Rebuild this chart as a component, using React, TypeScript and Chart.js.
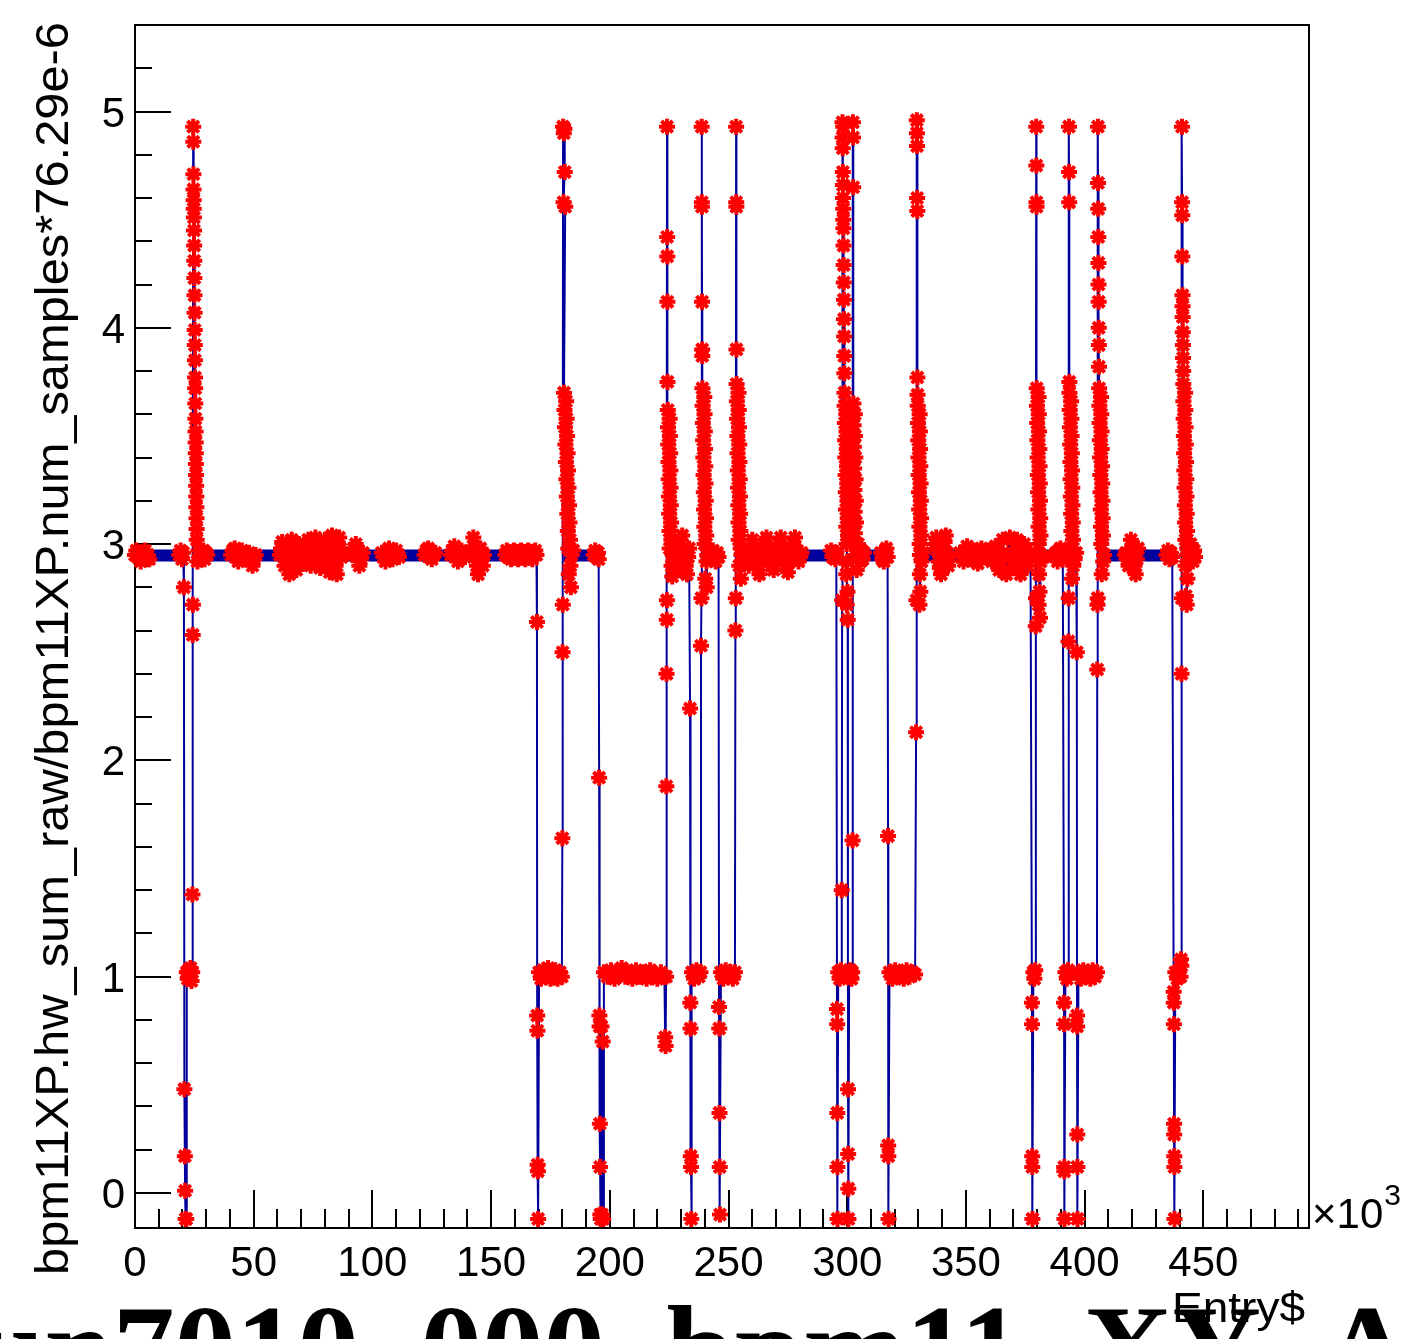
import { useEffect, useRef } from 'react';
import { Chart, registerables } from 'chart.js';

Chart.register(...registerables);

type Pt = [number, number];

// ---------------- axis definition (entries in units of 10^3) ----------------
const xAxisRange: Pt = [0, 494.5];
const yAxisRange: Pt = [-0.162, 5.4];
const xMajorTicks = [0, 50, 100, 150, 200, 250, 300, 350, 400, 450];
const yMajorTicks = [0, 1, 2, 3, 4, 5];
const xMinorStep = 10;
const yMinorStep = 0.2;

const yTitle = 'bpm11XP.hw_sum_raw/bpm11XP.num_samples*76.29e-6';
const xTitle = 'Entry$';
const xExponent = '3';
const pageTitle = 'run7010_000_bpm11_XY_A';

// ---------------- dense baseline band (noise envelope around ~2.95) ----------------
const bandHigh = 2.975;
const bandLow = 2.92;
const baselineRuns: Pt[] = [
  [0, 21.3], [24.6, 169.3], [180.5, 195.5], [224.5, 233.8], [239.5, 246],
  [254, 295.7], [302.6, 317.2], [330, 377.8], [380.2, 391.3], [393.8, 396.8],
  [406.2, 437.7], [441.5, 446.9],
];

// ---------------- individual entries (entry [10^3], value) ----------------
const openingRun: Pt[] = [
  [0, 2.95], [0.6, 2.97], [1.2, 2.94], [1.8, 2.96], [2.4, 2.92], [3, 2.96], [3.6, 2.94], [4.2, 2.97],
  [4.8, 2.93], [5.4, 2.95], [6, 2.93],
  [18.6, 2.95], [19.2, 2.97], [19.8, 2.93], [20.3, 2.96],
  [20.6, 2.8], [20.8, 0.48], [21.0, 0.17], [21.1, 0.01], [21.3, -0.12], [21.6, -0.12],
  [21.8, 1.02], [22.2, 0.99], [22.6, 1.03], [23.0, 1.0], [23.4, 1.04], [23.8, 0.98], [24.1, 1.02],
  [24.2, 1.38], [24.3, 2.58], [24.4, 2.72],
  [24.5, 4.93], [24.55, 4.86], [24.6, 4.71], [24.65, 4.64], [24.7, 4.59], [24.75, 4.55], [24.8, 4.51], [24.85, 4.45],
  [24.9, 4.38], [24.95, 4.31], [25.0, 4.23], [25.05, 4.15], [25.1, 4.07], [25.15, 3.99], [25.2, 3.92], [25.25, 3.85],
  [25.3, 3.77], [25.35, 3.72], [25.4, 3.65], [25.45, 3.58], [25.5, 3.52], [25.55, 3.47], [25.6, 3.42], [25.65, 3.37],
  [25.7, 3.32], [25.75, 3.27], [25.8, 3.22], [25.85, 3.17], [25.9, 3.12], [25.95, 3.07], [26.0, 3.02],
  [26.3, 2.92], [26.8, 2.97], [27.3, 2.93], [27.8, 2.96], [28.3, 2.94], [28.8, 2.97], [29.3, 2.93],
  [29.8, 2.96], [30.4, 2.95],
];

const stableRun: Pt[] = [
  [40.5, 2.95], [41.2, 2.97], [42, 2.98], [42.7, 2.94], [43.5, 2.92], [44.2, 2.95], [45, 2.97], [45.7, 2.95],
  [46.5, 2.93], [47.2, 2.95], [48, 2.96], [48.7, 2.93], [49.5, 2.9], [50.2, 2.93], [50.8, 2.95],
  [61, 2.95], [61.5, 2.98], [62, 3.01], [62.5, 2.95], [63, 2.9], [63.5, 2.94], [64, 2.98], [64.5, 2.92],
  [65, 2.86], [65.5, 2.96], [66, 3.02], [66.5, 2.97], [67, 2.93], [67.5, 2.9], [68, 2.88], [68.5, 2.95],
  [69, 3.0], [69.5, 2.98], [70, 2.95], [70.5, 2.93], [71, 2.91], [71.5, 2.94], [72, 2.97], [72.5, 3.0],
  [73, 3.02], [73.5, 2.96], [74, 2.9], [74.5, 2.93], [75, 2.96], [75.5, 3.0], [76, 3.03], [76.5, 2.98],
  [77, 2.93], [77.5, 2.91], [78, 2.89], [78.5, 2.94], [79, 2.98], [79.5, 3.0], [80, 3.02], [80.5, 2.97],
  [81, 2.92], [81.5, 2.9], [82, 2.87], [82.5, 2.96], [83, 3.04], [83.5, 2.99], [84, 2.95], [84.5, 2.9],
  [85, 2.86], [85.5, 2.95], [86, 3.03], [86.5, 2.98], [87, 2.94], [87.6, 2.96],
  [91.5, 2.95], [92.2, 2.98], [93, 3.0], [93.7, 2.95], [94.5, 2.9], [95.2, 2.93], [96, 2.96],
  [104, 2.96], [104.7, 2.94], [105.5, 2.92], [106.2, 2.95], [107, 2.98], [107.7, 2.96], [108.5, 2.93],
  [109.2, 2.95], [110, 2.97], [110.7, 2.95], [111.2, 2.94],
  [122, 2.95], [122.7, 2.97], [123.5, 2.98], [124.2, 2.95], [125, 2.93], [125.7, 2.95], [126.5, 2.96],
  [133, 2.95], [133.7, 2.97], [134.5, 2.99], [135.2, 2.95], [136, 2.92], [136.7, 2.94], [137.5, 2.97],
  [138.2, 2.96], [139, 2.94],
  [142.5, 3.03], [143, 2.99], [143.5, 2.95], [144, 2.9], [144.5, 2.86], [145, 2.92], [145.5, 2.98],
  [146, 2.94], [146.5, 2.9], [147, 2.95],
  [156, 2.95], [156.6, 2.97], [157.2, 2.94], [157.8, 2.96], [158.4, 2.93], [159, 2.95], [159.6, 2.97],
  [160.2, 2.94], [160.8, 2.96], [161.4, 2.93], [162, 2.95], [162.6, 2.97], [163.2, 2.94], [163.8, 2.96],
  [164.4, 2.93], [165, 2.95], [165.6, 2.97], [166.2, 2.94], [166.8, 2.96], [167.4, 2.93], [168, 2.95],
  [168.6, 2.97], [169.1, 2.95],
];

const dipAt170: Pt[] = [
  [169.3, 2.64], [169.4, 0.82], [169.5, 0.75], [169.6, 0.13], [169.7, 0.1], [169.8, -0.12],
  [170.2, 1.02], [171, 0.99], [172, 1.03], [173, 1.0], [174, 1.04], [175, 0.99], [176, 1.02], [177, 1.03],
  [178, 0.99], [179, 1.02], [179.8, 1.0], [180.0, 1.64], [180.1, 2.5], [180.2, 2.72],
  [180.3, 4.93], [180.6, 4.9], [180.9, 4.92], [181.0, 4.72], [180.5, 4.58], [181.2, 4.56],
  [180.7, 3.7], [181.6, 3.66], [180.9, 3.62], [181.8, 3.58], [181.1, 3.54], [182.0, 3.5], [181.3, 3.46],
  [182.2, 3.42], [181.5, 3.38], [182.4, 3.34], [181.7, 3.3], [182.6, 3.26], [181.9, 3.22], [182.8, 3.18],
  [182.1, 3.14], [183.0, 3.1], [182.3, 3.06], [183.2, 3.02], [182.5, 2.98], [183.4, 2.9], [182.7, 2.86],
  [183.6, 2.8], [183.9, 2.95], [184.6, 2.97],
];

const dipAt196: Pt[] = [
  [193.2, 2.95], [193.8, 2.97], [194.4, 2.94], [195.0, 2.96], [195.3, 2.93],
  [195.5, 1.92], [195.6, 0.82], [195.7, 0.77], [195.8, 0.32], [195.9, 0.12], [196.0, -0.1], [196.2, -0.12],
  [196.5, 0.77], [196.7, -0.1], [197.0, 0.7], [197.2, -0.12],
  [197.5, 1.02], [199, 1.0], [200.5, 1.03], [202, 0.99], [203.5, 1.02], [205, 1.04], [206.5, 1.0], [208, 1.02],
  [209.5, 0.99], [211, 1.03], [212.5, 1.0], [214, 1.02], [215.5, 0.99], [217, 1.03], [218.5, 1.01], [220, 0.99],
  [221.5, 1.02], [223, 1.0], [223.3, 0.72], [223.5, 0.68], [223.7, 1.0],
  [223.8, 1.88], [223.9, 2.4], [224.0, 2.65], [224.05, 2.74],
  [224.1, 4.93], [224.15, 4.42], [224.2, 4.33], [224.25, 4.12], [224.3, 3.75],
  [224.4, 3.62], [225.2, 3.58], [224.5, 3.54], [225.3, 3.5], [224.6, 3.46], [225.4, 3.42], [224.7, 3.38],
  [225.5, 3.34], [224.8, 3.3], [225.6, 3.26], [224.9, 3.22], [225.7, 3.18], [225.0, 3.14], [225.8, 3.1],
  [225.1, 3.06], [225.9, 3.02], [225.2, 2.98], [226.0, 2.9], [226.3, 2.85], [226.5, 2.95],
  [227, 2.93], [227.7, 2.97], [228.5, 3.0], [229, 2.95], [229.5, 2.88], [230, 2.94], [230.5, 3.04],
  [231, 2.98], [231.5, 2.92], [232, 2.9], [232.5, 2.86], [233, 2.94], [233.4, 2.98],
];

const dipAt234: Pt[] = [
  [233.8, 2.24], [233.9, 0.88], [234.0, 0.76], [234.1, 0.17], [234.2, 0.12], [234.3, -0.12],
  [234.6, 1.02], [235.5, 0.99], [236.5, 1.03], [237.5, 1.0], [238.2, 1.02], [238.4, 2.53], [238.6, 2.75],
  [238.7, 4.93], [238.75, 4.58], [238.8, 4.56], [238.85, 4.12], [238.9, 3.9], [238.95, 3.87],
  [239.0, 3.72], [239.8, 3.68], [239.1, 3.64], [239.9, 3.6], [239.2, 3.56], [240.0, 3.52], [239.3, 3.48],
  [240.1, 3.44], [239.4, 3.4], [240.2, 3.36], [239.5, 3.32], [240.3, 3.28], [239.6, 3.24], [240.4, 3.2],
  [239.7, 3.16], [240.5, 3.12], [239.8, 3.08], [240.6, 3.04], [239.9, 3.0], [240.7, 2.92], [240.2, 2.84],
  [240.8, 2.8], [241.0, 2.95],
  [241.6, 2.94], [242.2, 2.96], [242.8, 2.93], [243.4, 2.97], [244, 2.95], [244.6, 2.92], [245.2, 2.96],
  [245.8, 2.94],
];

const dipAt246: Pt[] = [
  [246.0, 0.86], [246.1, 0.76], [246.2, 0.37], [246.3, 0.12], [246.4, -0.1],
  [246.8, 1.02], [247.8, 0.99], [248.8, 1.03], [249.8, 1.0], [250.8, 1.02], [251.8, 0.99], [252.7, 1.02],
  [252.9, 2.6], [253.05, 2.75],
  [253.2, 4.93], [253.25, 4.58], [253.3, 4.56], [253.35, 3.9], [253.4, 3.74], [254.2, 3.7], [253.5, 3.66],
  [254.3, 3.62], [253.6, 3.58], [254.4, 3.54], [253.7, 3.5], [254.5, 3.46], [253.8, 3.42], [254.6, 3.38],
  [253.9, 3.34], [254.7, 3.3], [254.0, 3.26], [254.8, 3.22], [254.1, 3.18], [254.9, 3.14], [254.2, 3.1],
  [255.0, 3.06], [254.3, 3.02], [255.1, 2.98], [254.5, 2.9], [255.2, 2.84], [255.4, 2.95],
  [256.2, 2.95], [257, 2.97], [257.7, 2.94], [258.5, 2.9], [259.2, 2.96], [260, 3.02], [260.7, 2.98],
  [261.5, 2.93], [262.2, 2.9], [263, 2.86], [263.7, 2.93], [264.5, 2.98], [265.2, 3.0], [266, 3.03],
  [266.7, 2.97], [267.5, 2.92], [268.2, 2.9], [269, 2.88], [269.7, 2.93], [270.5, 2.97], [271.2, 3.0],
  [272, 3.03], [272.7, 2.98], [273.5, 2.93], [274.2, 2.9], [275, 2.87], [275.7, 2.92], [276.5, 2.96],
  [277.2, 3.0], [278, 3.03], [278.7, 2.97], [279.5, 2.92], [280.2, 2.94], [280.8, 2.96],
];

const dipsAt296to303: Pt[] = [
  [293.2, 2.97], [293.8, 2.94], [294.4, 2.96], [295.0, 2.93], [295.4, 2.96],
  [295.7, 0.85], [295.75, 0.78], [295.8, 0.37], [295.85, 0.12], [295.9, -0.12],
  [296.2, 1.02], [296.8, 0.99], [297.4, 1.03], [297.7, 1.4], [297.85, 2.74],
  [298.0, 4.95], [298.3, 4.93], [298.05, 4.88], [298.1, 4.83], [298.15, 4.72], [298.2, 4.66], [298.25, 4.6],
  [298.3, 4.55], [298.35, 4.5], [298.4, 4.46], [298.45, 4.38], [298.5, 4.29], [298.55, 4.21], [298.6, 4.13],
  [298.65, 4.04], [298.7, 3.96], [298.75, 3.87], [298.8, 3.79], [298.85, 3.7], [298.9, 3.64], [299.6, 3.6],
  [299.0, 3.56], [299.7, 3.52], [299.1, 3.48], [299.8, 3.44], [299.2, 3.4], [299.9, 3.36], [299.3, 3.32],
  [300.0, 3.28], [299.4, 3.24], [300.1, 3.2], [299.5, 3.16], [300.2, 3.12], [299.6, 3.08], [300.3, 3.04],
  [299.7, 3.0], [300.0, 2.92], [299.6, 2.86], [300.1, 2.78], [299.8, 2.72], [300.2, 2.65],
  [300.3, 1.02], [300.35, 0.48], [300.4, 0.18], [300.45, 0.02], [300.5, -0.12],
  [300.8, 1.0], [301.3, 1.03], [301.8, 0.99], [302.1, 1.02], [302.25, 1.63],
  [302.4, 4.95], [302.45, 4.88], [302.5, 4.65], [302.6, 3.65], [303.2, 3.6], [302.7, 3.55], [303.3, 3.5],
  [302.8, 3.45], [303.4, 3.4], [302.9, 3.35], [303.5, 3.3], [303.0, 3.25], [303.6, 3.2], [303.1, 3.15],
  [303.7, 3.1], [303.2, 3.05], [303.8, 3.0], [303.4, 2.95], [304.0, 2.88],
  [304.5, 3.0], [305, 2.94], [305.5, 2.92], [306, 2.97], [306.5, 2.93], [307, 2.96],
];

const dipAt317: Pt[] = [
  [314.2, 2.96], [314.8, 2.93], [315.4, 2.92], [316, 2.96], [316.5, 2.98], [317.0, 2.94],
  [317.2, 1.65], [317.25, 0.22], [317.3, 0.17], [317.4, -0.12],
  [317.8, 1.02], [319, 0.99], [320.2, 1.03], [321.4, 1.0], [322.6, 1.02], [323.8, 0.99], [325, 1.03],
  [326.2, 1.0], [327.4, 1.02], [328.6, 1.01], [329.0, 2.13], [329.15, 2.74],
  [329.3, 4.96], [329.35, 4.9], [329.4, 4.84], [329.45, 4.6], [329.5, 4.54], [329.55, 3.77], [329.6, 3.69],
  [329.7, 3.64], [330.5, 3.6], [329.8, 3.56], [330.6, 3.52], [329.9, 3.48], [330.7, 3.44], [330.0, 3.4],
  [330.8, 3.36], [330.1, 3.32], [330.9, 3.28], [330.2, 3.24], [331.0, 3.2], [330.3, 3.16], [331.1, 3.12],
  [330.4, 3.08], [331.2, 3.04], [330.5, 3.0], [331.3, 2.92], [330.6, 2.86], [330.8, 2.78], [330.4, 2.72],
  [330.6, 2.95], [332.0, 2.96],
  [337, 3.0], [337.5, 3.03], [338, 2.97], [338.5, 2.92], [339, 2.89], [339.5, 2.86], [340, 2.93],
  [340.5, 2.98], [341, 3.01], [341.5, 3.04], [342, 2.96], [342.5, 2.9], [343, 2.94],
  [347.5, 2.96], [348.2, 2.94], [349, 2.92], [349.7, 2.96], [350.5, 2.99], [351.2, 2.96], [352, 2.93],
  [352.7, 2.95], [353.5, 2.97], [354.2, 2.94], [355, 2.91], [355.7, 2.95], [356.5, 2.98], [357.2, 2.96],
  [358, 2.94], [358.7, 2.96], [359.5, 2.97], [360.2, 2.94], [361, 2.92], [361.7, 2.96], [362.5, 2.99],
  [363.2, 2.93], [364, 2.88], [364.7, 2.95], [365.5, 3.02], [366.2, 2.94], [367, 2.86], [367.7, 2.95],
  [368.5, 3.03], [369.2, 2.96], [370, 2.9], [370.7, 2.96], [371.5, 3.02], [372.2, 2.94], [373, 2.86],
  [373.7, 2.93], [374.5, 3.0], [375.2, 2.95], [376, 2.9], [376.6, 2.94], [377.2, 2.96],
];

const dipsAt378to397: Pt[] = [
  [377.8, 0.88], [377.85, 0.78], [377.9, 0.17], [377.95, 0.12], [378.0, -0.12],
  [378.4, 1.02], [378.8, 0.99], [379.2, 1.03], [379.4, 2.62], [379.5, 2.75],
  [379.6, 4.93], [379.65, 4.75], [379.7, 4.58], [379.75, 4.56], [379.8, 3.72], [380.6, 3.68], [379.9, 3.64],
  [380.7, 3.6], [380.0, 3.56], [380.8, 3.52], [380.1, 3.48], [380.9, 3.44], [380.2, 3.4], [381.0, 3.36],
  [380.3, 3.32], [381.1, 3.28], [380.4, 3.24], [381.2, 3.2], [380.5, 3.16], [381.3, 3.12], [380.6, 3.08],
  [381.4, 3.04], [380.7, 3.0], [381.5, 2.92], [380.8, 2.86], [381.0, 2.78], [380.6, 2.72], [381.2, 2.66],
  [381.4, 2.95], [382.5, 2.94],
  [387.5, 2.95], [388, 2.96], [388.6, 2.92], [389.2, 2.97], [389.8, 2.98], [390.3, 2.94], [390.8, 2.93],
  [391.3, 0.88], [391.35, 0.78], [391.4, 0.12], [391.45, 0.1], [391.5, -0.12],
  [391.9, 1.02], [392.5, 0.99], [393.0, 1.03], [393.2, 2.55], [393.3, 2.75],
  [393.4, 4.93], [393.45, 4.72], [393.5, 4.58], [393.55, 3.75], [393.6, 3.7], [394.3, 3.66], [393.7, 3.62],
  [394.4, 3.58], [393.8, 3.54], [394.5, 3.5], [393.9, 3.46], [394.6, 3.42], [394.0, 3.38], [394.7, 3.34],
  [394.1, 3.3], [394.8, 3.26], [394.2, 3.22], [394.9, 3.18], [394.3, 3.14], [395.0, 3.1], [394.4, 3.06],
  [395.1, 3.02], [394.5, 2.98], [395.2, 2.9], [394.7, 2.84], [394.9, 2.95], [395.8, 2.93], [396.4, 2.96],
  [396.7, 2.5],
  [396.8, 0.82], [396.85, 0.77], [396.9, 0.27], [396.95, 0.12], [397.0, -0.12],
  [397.4, 1.02], [398.4, 0.99], [399.4, 1.03], [400.4, 1.0], [401.4, 1.02], [402.4, 0.99], [403.4, 1.03],
  [404.4, 1.0], [405.2, 1.02], [405.3, 2.42], [405.4, 2.72], [405.5, 2.75],
  [405.6, 4.93], [405.65, 4.67], [405.7, 4.55], [405.75, 4.42], [405.8, 4.3], [405.85, 4.2], [405.9, 4.12],
  [405.95, 4.0], [406.0, 3.92], [406.05, 3.82], [406.1, 3.72], [406.9, 3.68], [406.2, 3.64], [407.0, 3.6],
  [406.3, 3.56], [407.1, 3.52], [406.4, 3.48], [407.2, 3.44], [406.5, 3.4], [407.3, 3.36], [406.6, 3.32],
  [407.4, 3.28], [406.7, 3.24], [407.5, 3.2], [406.8, 3.16], [407.6, 3.12], [406.9, 3.08], [407.7, 3.04],
  [407.0, 3.0], [407.8, 2.92], [407.2, 2.86], [408.2, 2.95],
];

const dipAt438: Pt[] = [
  [417, 2.95], [417.5, 2.96], [418, 2.93], [418.5, 2.9], [419, 2.96], [419.5, 3.02], [420, 2.98],
  [420.5, 2.93], [421, 2.9], [421.5, 2.86], [422, 2.93], [422.5, 2.98],
  [434.5, 2.95], [435.1, 2.97], [435.7, 2.93], [436.3, 2.96], [436.9, 2.94],
  [437.5, 0.93], [437.55, 0.88], [437.6, 0.78], [437.65, 0.32], [437.7, 0.27], [437.75, 0.17],
  [437.8, 0.12], [437.85, -0.12],
  [438.2, 1.02], [439, 0.99], [439.8, 1.03], [440.4, 1.0], [440.6, 1.08], [440.7, 1.05], [440.8, 2.4],
  [440.9, 2.75],
  [441.0, 4.93], [441.05, 4.58], [441.1, 4.52], [441.15, 4.33], [441.2, 4.15], [441.25, 4.1], [441.3, 4.05],
  [441.35, 3.98], [441.4, 3.92], [441.45, 3.86], [441.5, 3.8], [441.55, 3.74], [442.3, 3.7], [441.6, 3.66],
  [442.4, 3.62], [441.7, 3.58], [442.5, 3.54], [441.8, 3.5], [442.6, 3.46], [441.9, 3.42], [442.7, 3.38],
  [442.0, 3.34], [442.8, 3.3], [442.1, 3.26], [442.9, 3.22], [442.2, 3.18], [443.0, 3.14], [442.3, 3.1],
  [443.1, 3.06], [442.4, 3.02], [443.2, 2.98], [442.5, 2.9], [443.3, 2.84], [442.6, 2.76], [443.0, 2.72],
  [443.2, 2.95], [443.6, 2.95], [444.1, 2.98], [444.6, 3.0], [445.1, 2.94], [445.6, 2.92], [446.1, 2.97],
  [446.5, 2.94],
];

const BLUE = '#00009c';
const RED = '#ff0000';
const LABEL_FONT = '"Liberation Sans", Arial, Helvetica, sans-serif';

const rootAxesPlugin = {
  id: 'rootAxes',
  beforeDatasetsDraw(chart: any) {
    const { ctx, chartArea: a, scales } = chart;
    const xs = scales.x;
    const ys = scales.y;
    ctx.save();
    ctx.strokeStyle = '#000';
    ctx.lineWidth = 2;
    ctx.strokeRect(a.left, a.top, a.right - a.left, a.bottom - a.top);
    ctx.beginPath();
    for (let k = 0; k * xMinorStep <= xAxisRange[1]; k++) {
      const v = k * xMinorStep;
      const px = Math.round(xs.getPixelForValue(v));
      const major = xMajorTicks.includes(v);
      ctx.moveTo(px, a.bottom);
      ctx.lineTo(px, a.bottom - (major ? 38 : 19));
    }
    for (let k = -5; k < 40; k++) {
      const v = Math.round(k * yMinorStep * 10) / 10;
      if (v < yAxisRange[0] || v >= yAxisRange[1] - 1e-6) continue;
      const py = Math.round(ys.getPixelForValue(v));
      const major = yMajorTicks.includes(v);
      ctx.moveTo(a.left, py);
      ctx.lineTo(a.left + (major ? 36 : 17), py);
    }
    ctx.stroke();
    ctx.restore();
  },
  afterDraw(chart: any) {
    const { ctx, chartArea: a, scales } = chart;
    const xs = scales.x;
    const ys = scales.y;
    ctx.save();
    ctx.fillStyle = '#000';

    // tick labels
    ctx.font = `42px ${LABEL_FONT}`;
    ctx.textBaseline = 'alphabetic';
    ctx.textAlign = 'center';
    xMajorTicks.forEach((v) => {
      ctx.fillText(String(v), xs.getPixelForValue(v), a.bottom + 48);
    });
    ctx.textAlign = 'right';
    yMajorTicks.forEach((v) => {
      ctx.fillText(String(v), a.left - 10, ys.getPixelForValue(v) + 15);
    });

    // x10^3
    ctx.textAlign = 'left';
    ctx.font = `42px ${LABEL_FONT}`;
    ctx.fillText('\u00d710', a.right + 3, a.bottom);
    const w10 = ctx.measureText('\u00d710').width;
    ctx.font = `30px ${LABEL_FONT}`;
    ctx.fillText(xExponent, a.right + 3 + w10 + 1, a.bottom - 23);

    // bottom big title (clipped by canvas edge)
    ctx.font = 'bold 123px "Liberation Serif", "Times New Roman", serif';
    ctx.textAlign = 'left';
    const lead = ctx.measureText('run').width;
    ctx.fillText(pageTitle, 113 - lead, 1390);

    // x axis title
    ctx.font = `42px ${LABEL_FONT}`;
    ctx.textAlign = 'right';
    const wx = ctx.measureText(xTitle).width;
    ctx.save();
    ctx.translate(a.right - 4, 1322);
    ctx.scale(133 / wx, 1);
    ctx.fillText(xTitle, 0, 0);
    ctx.restore();

    // y axis title
    ctx.font = `46px ${LABEL_FONT}`;
    const wy = ctx.measureText(yTitle).width;
    ctx.save();
    ctx.translate(68, 22);
    ctx.rotate(-Math.PI / 2);
    ctx.scale(1253 / wy, 1);
    ctx.textAlign = 'right';
    ctx.fillText(yTitle, 0, 0);
    ctx.restore();

    ctx.restore();
  },
};

export default function App() {
  const canvasRef = useRef<HTMLCanvasElement | null>(null);

  useEffect(() => {
    const canvas = canvasRef.current;
    if (!canvas) return;

    const tracePoints = [
      ...openingRun, ...stableRun, ...dipAt170, ...dipAt196, ...dipAt234, ...dipAt246,
      ...dipsAt296to303, ...dipAt317, ...dipsAt378to397, ...dipAt438,
    ].map(([x, y]) => ({ x, y }));

    const bandMid = (bandHigh + bandLow) / 2;
    const bandPoints: { x: number; y: number | null }[] = [];
    baselineRuns.forEach(([s, e]) => {
      bandPoints.push({ x: s, y: bandMid }, { x: e, y: bandMid }, { x: e, y: null });
    });

    const chart = new Chart(canvas, {
      type: 'scatter',
      data: {
        datasets: [
          {
            label: 'entries',
            data: tracePoints,
            showLine: true,
            borderColor: BLUE,
            borderWidth: 2,
            pointStyle: 'star',
            pointRadius: 8,
            pointHoverRadius: 8,
            pointBorderColor: RED,
            pointBackgroundColor: RED,
            pointBorderWidth: 4,
            order: 0,
            clip: false as any,
          } as any,
          {
            label: 'baseline band',
            data: bandPoints,
            showLine: true,
            spanGaps: false,
            borderColor: BLUE,
            borderCapStyle: 'butt',
            borderWidth: (c: any) => {
              const ys = c.chart.scales && c.chart.scales.y;
              if (!ys) return 12;
              return Math.abs(ys.getPixelForValue(bandLow) - ys.getPixelForValue(bandHigh));
            },
            pointRadius: 0,
            pointHoverRadius: 0,
            order: 1,
          } as any,
        ],
      },
      options: {
        animation: false,
        responsive: false,
        events: [],
        layout: { padding: { left: 135, top: 25, right: 110, bottom: 111 } },
        plugins: { legend: { display: false }, tooltip: { enabled: false }, title: { display: false } },
        scales: {
          x: { type: 'linear', display: false, min: xAxisRange[0], max: xAxisRange[1] },
          y: { type: 'linear', display: false, min: yAxisRange[0], max: yAxisRange[1] },
        },
      },
      plugins: [rootAxesPlugin],
    });

    return () => chart.destroy();
  }, []);

  return (
    <div style={{ position: 'fixed', left: 0, top: 0, width: 1419, height: 1339, background: '#fff' }}>
      <canvas ref={canvasRef} width={1419} height={1339} style={{ display: 'block' }} />
    </div>
  );
}
